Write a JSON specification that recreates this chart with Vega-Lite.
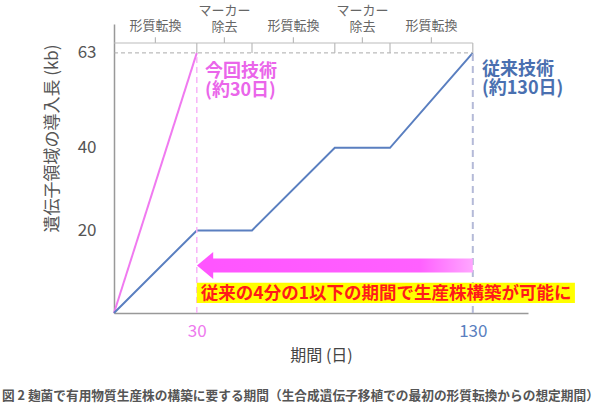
{
  "$schema": "https://vega.github.io/schema/vega-lite/v6.json",
  "width": 414,
  "height": 289,
  "autosize": {"type": "none"},
  "padding": {"left": 114, "top": 24, "right": 72, "bottom": 90},
  "background": "white",
  "config": {"view": {"stroke": null}, "font": "Noto Sans CJK JP"},
  "title": {
    "text": "図 2 麹菌で有用物質生産株の構築に要する期間（生合成遺伝子移植での最初の形質転換からの想定期間）",
    "orient": "bottom",
    "anchor": "start",
    "frame": "bounds",
    "dx": -41,
    "offset": 27,
    "fontSize": 12.7,
    "fontWeight": "bold",
    "color": "#555555"
  },
  "datasets": {
    "growth": [
      {"method": "今回技術", "day": 0, "kb": 0},
      {"method": "今回技術", "day": 30, "kb": 63},
      {"method": "従来技術", "day": 0, "kb": 0},
      {"method": "従来技術", "day": 30, "kb": 20},
      {"method": "従来技術", "day": 50, "kb": 20},
      {"method": "従来技術", "day": 80, "kb": 40},
      {"method": "従来技術", "day": 100, "kb": 40},
      {"method": "従来技術", "day": 130, "kb": 63}
    ],
    "steps": [
      {"step": "形質転換", "start": 0, "end": 30},
      {"step": "マーカー\n除去", "start": 30, "end": 50},
      {"step": "形質転換", "start": 50, "end": 80},
      {"step": "マーカー\n除去", "start": 80, "end": 100},
      {"step": "形質転換", "start": 100, "end": 130}
    ],
    "one": [{}]
  },
  "layer": [
    {
      "data": {"name": "growth"},
      "mark": {"type": "line", "strokeWidth": 2},
      "encoding": {
        "x": {
          "field": "day", "type": "quantitative",
          "scale": {"domain": [0, 150], "nice": false, "zero": false},
          "axis": {
            "values": [30, 130], "grid": false, "ticks": false,
            "domainColor": "#999999", "domainWidth": 1.5,
            "labelFontSize": 17, "labelPadding": 10,
            "labelColor": {"condition": {"test": "datum.value == 30", "value": "#ee7aee"}, "value": "#5a7fc0"},
            "title": "期間 (日)", "titleFontSize": 16, "titleFontWeight": "normal",
            "titleColor": "#444444", "titlePadding": 8
          }
        },
        "y": {
          "field": "kb", "type": "quantitative",
          "scale": {"domain": [0, 70], "nice": false},
          "axis": {
            "values": [20, 40, 63], "grid": false, "ticks": false,
            "domainColor": "#999999", "domainWidth": 1.5,
            "labelFontSize": 17, "labelColor": "#555555", "labelPadding": 18,
            "title": "遺伝子領域の導入長 (kb)", "titleFontSize": 17, "titleFontWeight": "normal",
            "titleColor": "#555555", "titleX": -62, "titleY": 114,
            "titleAlign": "center", "titleBaseline": "middle"
          }
        },
        "color": {
          "field": "method", "type": "nominal",
          "scale": {"domain": ["今回技術", "従来技術"], "range": ["#f07af0", "#5a7fc0"]},
          "legend": null
        }
      }
    },
    {
      "data": {"name": "one"},
      "mark": {"type": "rule", "stroke": "#aaaaaa", "strokeWidth": 1, "strokeDash": [4, 3]},
      "encoding": {
        "x": {"datum": 0, "type": "quantitative"},
        "x2": {"datum": 130},
        "y": {"datum": 63, "type": "quantitative"}
      }
    },
    {
      "data": {"name": "one"},
      "mark": {"type": "rule", "stroke": "#f8b4f8", "strokeWidth": 1.5, "strokeDash": [6, 4]},
      "encoding": {
        "x": {"datum": 30, "type": "quantitative"},
        "y": {"datum": 0, "type": "quantitative"},
        "y2": {"datum": 63}
      }
    },
    {
      "data": {"name": "one"},
      "mark": {"type": "rule", "stroke": "#b4bad8", "strokeWidth": 2, "strokeDash": [7, 5]},
      "encoding": {
        "x": {"datum": 130, "type": "quantitative"},
        "y": {"datum": 0, "type": "quantitative"},
        "y2": {"datum": 63}
      }
    },
    {
      "data": {"name": "one"},
      "mark": {"type": "rule", "stroke": "#bbbbbb", "strokeWidth": 1.2},
      "encoding": {
        "x": {"datum": 0, "type": "quantitative"},
        "x2": {"datum": 130},
        "y": {"datum": 65.4, "type": "quantitative"}
      }
    },
    {
      "data": {"name": "steps"},
      "mark": {"type": "rule", "stroke": "#bbbbbb", "strokeWidth": 1.2},
      "encoding": {
        "x": {"field": "end", "type": "quantitative"},
        "y": {"datum": 65.4, "type": "quantitative"},
        "y2": {"datum": 63}
      }
    },
    {
      "data": {"name": "steps"},
      "transform": [{"calculate": "(datum.start + datum.end) / 2", "as": "mid"}],
      "mark": {"type": "rule", "stroke": "#bbbbbb", "strokeWidth": 1.2},
      "encoding": {
        "x": {"field": "mid", "type": "quantitative"},
        "y": {"datum": 65.4, "type": "quantitative"},
        "y2": {"datum": 66.8}
      }
    },
    {
      "data": {"name": "steps"},
      "transform": [
        {"filter": "datum.step == '形質転換'"},
        {"calculate": "(datum.start + datum.end) / 2", "as": "mid"}
      ],
      "mark": {"type": "text", "fontSize": 13, "color": "#666666", "baseline": "top"},
      "encoding": {
        "x": {"field": "mid", "type": "quantitative"},
        "y": {"datum": 71.0, "type": "quantitative"},
        "text": {"field": "step"}
      }
    },
    {
      "data": {"name": "steps"},
      "transform": [
        {"filter": "datum.step != '形質転換'"},
        {"calculate": "(datum.start + datum.end) / 2", "as": "mid"}
      ],
      "mark": {"type": "text", "fontSize": 13, "color": "#666666", "baseline": "top", "lineBreak": "\n", "lineHeight": 16},
      "encoding": {
        "x": {"field": "mid", "type": "quantitative"},
        "y": {"datum": 74.6, "type": "quantitative"},
        "text": {"field": "step"}
      }
    },
    {
      "data": {"name": "one"},
      "mark": {
        "type": "rect",
        "fill": {
          "gradient": "linear", "x1": 0, "x2": 1, "y1": 0, "y2": 0,
          "stops": [
            {"offset": 0, "color": "#ff55ff"},
            {"offset": 0.8, "color": "#ff60ff"},
            {"offset": 1, "color": "#ffa6ff"}
          ]
        }
      },
      "encoding": {
        "x": {"datum": 34, "type": "quantitative"},
        "x2": {"datum": 130},
        "y": {"datum": 9.8, "type": "quantitative"},
        "y2": {"datum": 13.2}
      }
    },
    {
      "data": {"name": "one"},
      "mark": {"type": "point", "shape": "M-0.6,0L0.6,-1L0.6,1Z", "size": 729, "filled": true, "color": "#ff55ff", "opacity": 1},
      "encoding": {
        "x": {"datum": 33, "type": "quantitative"},
        "y": {"datum": 11.5, "type": "quantitative"}
      }
    },
    {
      "data": {"name": "one"},
      "mark": {"type": "rect", "fill": "#ffff00"},
      "encoding": {
        "x": {"datum": 30, "type": "quantitative"},
        "x2": {"datum": 167},
        "y": {"datum": 2.4, "type": "quantitative"},
        "y2": {"datum": 7.3}
      }
    },
    {
      "data": {"name": "one"},
      "mark": {"type": "text", "text": "従来の4分の1以下の期間で生産株構築が可能に", "fontSize": 17.5, "fontWeight": "bold", "color": "#ff1a1a", "align": "center", "baseline": "middle"},
      "encoding": {
        "x": {"datum": 98.6, "type": "quantitative"},
        "y": {"datum": 4.5, "type": "quantitative"}
      }
    },
    {
      "data": {"name": "one"},
      "mark": {"type": "text", "text": "今回技術\n(約30日)", "lineBreak": "\n", "lineHeight": 19, "fontSize": 18, "fontWeight": "bold", "color": "#ea66ea", "align": "left", "baseline": "top"},
      "encoding": {
        "x": {"datum": 33, "type": "quantitative"},
        "y": {"datum": 60.6, "type": "quantitative"}
      }
    },
    {
      "data": {"name": "one"},
      "mark": {"type": "text", "text": "従来技術\n(約130日)", "lineBreak": "\n", "lineHeight": 19, "fontSize": 18, "fontWeight": "bold", "color": "#4a70b0", "align": "left", "baseline": "top"},
      "encoding": {
        "x": {"datum": 133.3, "type": "quantitative"},
        "y": {"datum": 61.1, "type": "quantitative"}
      }
    }
  ]
}
